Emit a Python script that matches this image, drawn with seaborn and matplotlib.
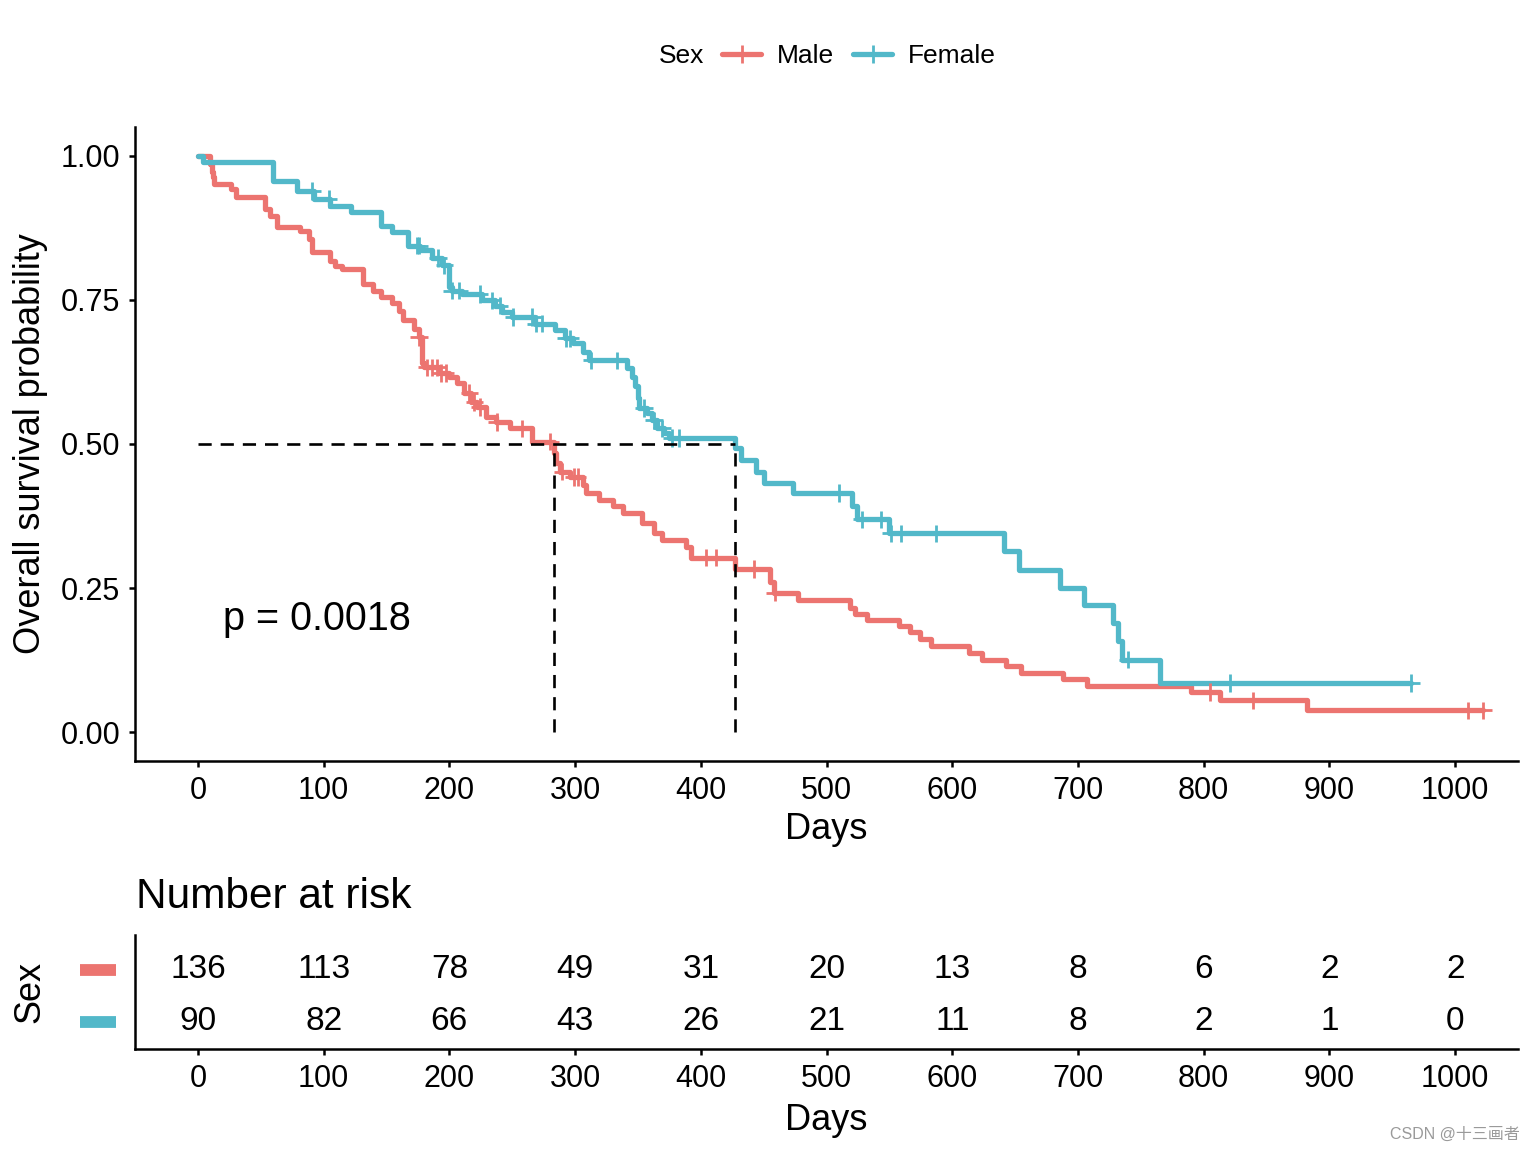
import numpy as np
import pandas as pd
import matplotlib
matplotlib.use("Agg")
import matplotlib.pyplot as plt
import seaborn as sns
from matplotlib.lines import Line2D
from matplotlib.ticker import FormatStrFormatter

# ---------------- data ----------------
groups = ["Male", "Female"]

male_time = [0, 10, 11, 12, 13, 26, 30, 53, 57, 63, 81, 88, 91, 105, 109, 115,
             131, 139, 146, 154, 160, 163, 172, 176, 178, 180, 192, 200, 206,
             212, 217, 222, 229, 237, 248, 266, 283, 285, 288, 296, 306, 309,
             319, 330, 338, 353, 363, 369, 388, 392, 427, 455, 458, 477, 519,
             523, 532, 558, 566, 574, 583, 613, 624, 643, 655, 688, 707, 790,
             813, 882]
male_surv = [1.0, 0.985, 0.971, 0.963, 0.951, 0.942, 0.928, 0.908, 0.896, 0.877,
             0.870, 0.856, 0.833, 0.818, 0.808, 0.804, 0.778, 0.766, 0.755, 0.744,
             0.730, 0.715, 0.700, 0.685, 0.640, 0.633, 0.623, 0.616, 0.605, 0.588,
             0.573, 0.564, 0.547, 0.538, 0.527, 0.504, 0.484, 0.467, 0.452, 0.443,
             0.429, 0.415, 0.403, 0.392, 0.381, 0.363, 0.346, 0.334, 0.322, 0.303,
             0.283, 0.260, 0.242, 0.230, 0.216, 0.205, 0.194, 0.184, 0.173, 0.161,
             0.149, 0.137, 0.126, 0.115, 0.103, 0.092, 0.081, 0.070, 0.055, 0.038]
male_end = 1022
male_censor = [176, 182, 186, 190, 193, 197, 216, 220, 224, 238, 258, 280, 290,
               299, 302, 404, 412, 442, 459, 805, 839, 1010, 1022]

female_time = [0, 4, 60, 79, 92, 105, 122, 146, 154, 167, 177, 186, 194, 200,
               202, 210, 226, 236, 242, 250, 268, 284, 292, 298, 306, 311, 341,
               345, 348, 350, 351, 357, 361, 365, 371, 375, 427, 432, 444, 450,
               473, 520, 524, 550, 641, 653, 686, 705, 728, 732, 735, 765]
female_surv = [1.0, 0.989, 0.957, 0.939, 0.925, 0.913, 0.902, 0.879, 0.867, 0.844,
               0.836, 0.823, 0.810, 0.772, 0.766, 0.760, 0.749, 0.740, 0.729, 0.720,
               0.709, 0.697, 0.683, 0.675, 0.660, 0.645, 0.631, 0.616, 0.600, 0.580,
               0.562, 0.553, 0.541, 0.527, 0.519, 0.510, 0.493, 0.472, 0.452, 0.432,
               0.415, 0.392, 0.369, 0.345, 0.314, 0.282, 0.251, 0.220, 0.189, 0.158,
               0.126, 0.085]
female_end = 965
female_censor = [91, 104, 174, 176, 191, 196, 202, 208, 224, 234, 240, 251, 266,
                 269, 274, 293, 296, 313, 333, 355, 363, 369, 377, 383, 510, 528,
                 543, 551, 559, 587, 740, 821, 965]

risk_times = [0, 100, 200, 300, 400, 500, 600, 700, 800, 900, 1000]
male_risk = [136, 113, 78, 49, 31, 20, 13, 8, 6, 2, 2]
female_risk = [90, 82, 66, 43, 26, 21, 11, 8, 2, 1, 0]

p_label = "p = 0.0018"
x_ticks = [0, 100, 200, 300, 400, 500, 600, 700, 800, 900, 1000]
y_ticks = [0.0, 0.25, 0.5, 0.75, 1.0]

colors = {"Male": "#EC7470", "Female": "#52B8C9"}

# ---------------- helpers ----------------
def step_frame(t, s, end, name):
    return pd.DataFrame({"day": list(t) + [end], "surv": list(s) + [s[-1]], "Sex": name})


def surv_at(t_knots, s_knots, times):
    idx = np.searchsorted(np.asarray(t_knots), np.asarray(times), side="right") - 1
    return np.asarray(s_knots)[idx]


def median_time(t, s):
    s = np.asarray(s)
    return np.asarray(t)[np.argmax(s <= 0.5)]


curves = pd.concat([step_frame(male_time, male_surv, male_end, "Male"),
                    step_frame(female_time, female_surv, female_end, "Female")],
                   ignore_index=True)
cens = pd.concat([
    pd.DataFrame({"day": male_censor, "surv": surv_at(male_time, male_surv, male_censor), "Sex": "Male"}),
    pd.DataFrame({"day": female_censor, "surv": surv_at(female_time, female_surv, female_censor), "Sex": "Female"}),
], ignore_index=True)

medians = [median_time(male_time, male_surv), median_time(female_time, female_surv)]

# ---------------- style ----------------
sns.set_theme(style="ticks")
plt.rcParams["font.family"] = ["Liberation Sans", "Noto Sans CJK SC", "DejaVu Sans"]
plt.rcParams.update({
    "axes.linewidth": 1.8,
    "xtick.major.width": 1.8, "ytick.major.width": 1.8,
    "xtick.major.size": 4.5, "ytick.major.size": 4.5,
    "xtick.color": "black", "ytick.color": "black",
    "xtick.labelcolor": "black", "ytick.labelcolor": "black",
    "axes.edgecolor": "black", "axes.labelcolor": "black", "text.color": "black",
})

fig = plt.figure(figsize=(15.36, 11.52), dpi=100)

# ---------------- survival curves ----------------
ax = fig.add_axes([0.0879, 0.3394, 0.9004, 0.5504])
sns.lineplot(data=curves, x="day", y="surv", hue="Sex", palette=colors,
             estimator=None, sort=False, drawstyle="steps-post", linewidth=3.8,
             legend=False, ax=ax)
sns.scatterplot(data=cens, x="day", y="surv", hue="Sex", palette=colors,
                marker="+", s=160, linewidth=2.0, legend=False, ax=ax, zorder=3)

dash = (0, (5.0, 3.4))
ax.plot([0, max(medians)], [0.5, 0.5], color="black", lw=1.9, linestyle=dash, zorder=4)
for m in medians:
    ax.plot([m, m], [0, 0.5], color="black", lw=1.9, linestyle=dash, zorder=4)

ax.text(20, 0.197, p_label, ha="left", va="center", fontsize=28.5)

ax.set_xlim(-50, 1050)
ax.set_ylim(-0.05, 1.05)
ax.set_xticks(x_ticks)
ax.set_yticks(y_ticks)
ax.yaxis.set_major_formatter(FormatStrFormatter("%.2f"))
ax.tick_params(axis="both", labelsize=22, pad=6)
ax.set_xlabel("Days", fontsize=26)
ax.set_ylabel("Overall survival probability", fontsize=26)
ax.xaxis.set_label_coords(0.5, -0.08)
ax.yaxis.set_label_coords(-0.063, 0.5)
sns.despine(ax=ax)

# legend
handles = [Line2D([], [], color=colors[g], lw=3.8, marker="+", markersize=12.5, mew=2.0)
           for g in groups]
fig.legend(handles, groups, loc="center", bbox_to_anchor=(0.5592, 0.9514), ncol=2,
           frameon=False, fontsize=19, handlelength=1.45, handletextpad=0.6,
           columnspacing=0.75)
fig.text(0.429, 0.9514, "Sex", ha="left", va="center", fontsize=19)

# ---------------- risk table ----------------
ax2 = fig.add_axes([0.0879, 0.0894, 0.9004, 0.0990])
risk_y = {"Male": 2, "Female": 1}
for t, n in zip(risk_times, male_risk):
    ax2.text(t, risk_y["Male"], str(n), ha="center", va="center", fontsize=24)
for t, n in zip(risk_times, female_risk):
    ax2.text(t, risk_y["Female"], str(n), ha="center", va="center", fontsize=24)
ax2.set_xlim(-50, 1050)
ax2.set_ylim(0.47, 2.67)
ax2.set_xticks(x_ticks)
ax2.set_yticks([])
ax2.tick_params(axis="x", labelsize=22, pad=6)
ax2.set_xlabel("Days", fontsize=26)
ax2.set_ylabel("Sex", fontsize=26)
ax2.xaxis.set_label_coords(0.5, -0.47)
ax2.yaxis.set_label_coords(-0.063, 0.5)
sns.despine(ax=ax2)
trans = ax2.get_yaxis_transform()
for g in groups:
    ax2.plot([-0.0398, -0.0137], [risk_y[g], risk_y[g]], color=colors[g], lw=8.5,
             solid_capstyle="butt", transform=trans, clip_on=False)

fig.text(0.0885, 0.2214, "Number at risk", ha="left", va="center", fontsize=30.5)

fig.text(0.9896, 0.0156, "CSDN @十三画者", ha="right", va="center", fontsize=11.5,
         color="#9a9a9a")

fig.savefig("out.png", dpi=100)
